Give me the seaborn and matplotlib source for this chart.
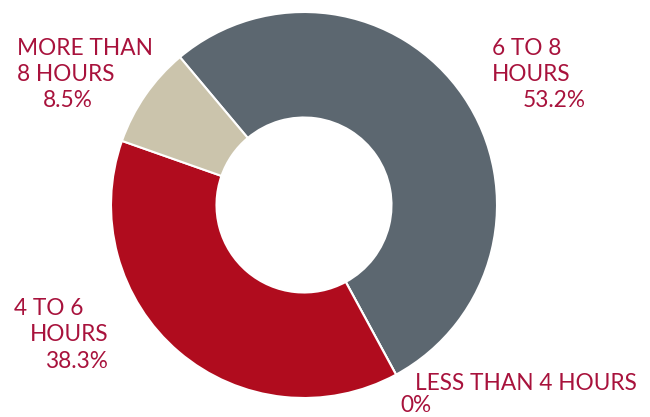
import matplotlib
matplotlib.use("Agg")
import matplotlib.pyplot as plt
import seaborn as sns

# datos del grafico (orden horario desde el corte superior izquierdo)
categorias = ["6 TO 8 HOURS", "LESS THAN 4 HOURS", "4 TO 6 HOURS", "MORE THAN 8 HOURS"]
porcentajes = [53.2, 0.0, 38.3, 8.5]
colores = ["#5c6770", "#b00c1e", "#b00c1e", "#cbc4ac"]

# lineas de cada etiqueta: (texto, x, y_baseline) en pixeles de la imagen
etiquetas = [
    [("6 TO 8", 492, 55), ("HOURS", 492, 81), ("53.2%", 523, 107)],
    [("LESS THAN 4 HOURS", 415, 390), ("0%", 400, 412)],
    [("4 TO 6", 14, 315), ("HOURS", 30, 341), ("38.3%", 45, 368)],
    [("MORE THAN", 17, 55), ("8 HOURS", 17, 81), ("8.5%", 43, 107)],
]
color_texto = "#a8123c"


def generar_grafico():
    sns.set_theme(style="white")
    plt.rcParams["font.family"] = ["Lato", "DejaVu Sans"]

    fig = plt.figure(figsize=(6.5, 4.17), dpi=100)
    ax = fig.add_axes([0, 0, 1, 1])
    paleta = sns.color_palette(colores)

    # anillo: centro (304, 205) px, radio 193, hueco 87.5
    ax.pie(porcentajes, colors=paleta, startangle=130, counterclock=False,
           center=(304, 417 - 205), radius=193,
           wedgeprops=dict(width=105.5, edgecolor="white", linewidth=1.5))

    for bloque in etiquetas:
        for texto, x, y in bloque:
            ax.text(x, 417 - y, texto, ha="left", va="baseline",
                    fontsize=16.3, color=color_texto)

    ax.set_xlim(0, 650)
    ax.set_ylim(0, 417)
    ax.set_aspect("equal")
    ax.axis("off")

    fig.savefig("out.png", dpi=100)


if __name__ == "__main__":
    generar_grafico()
